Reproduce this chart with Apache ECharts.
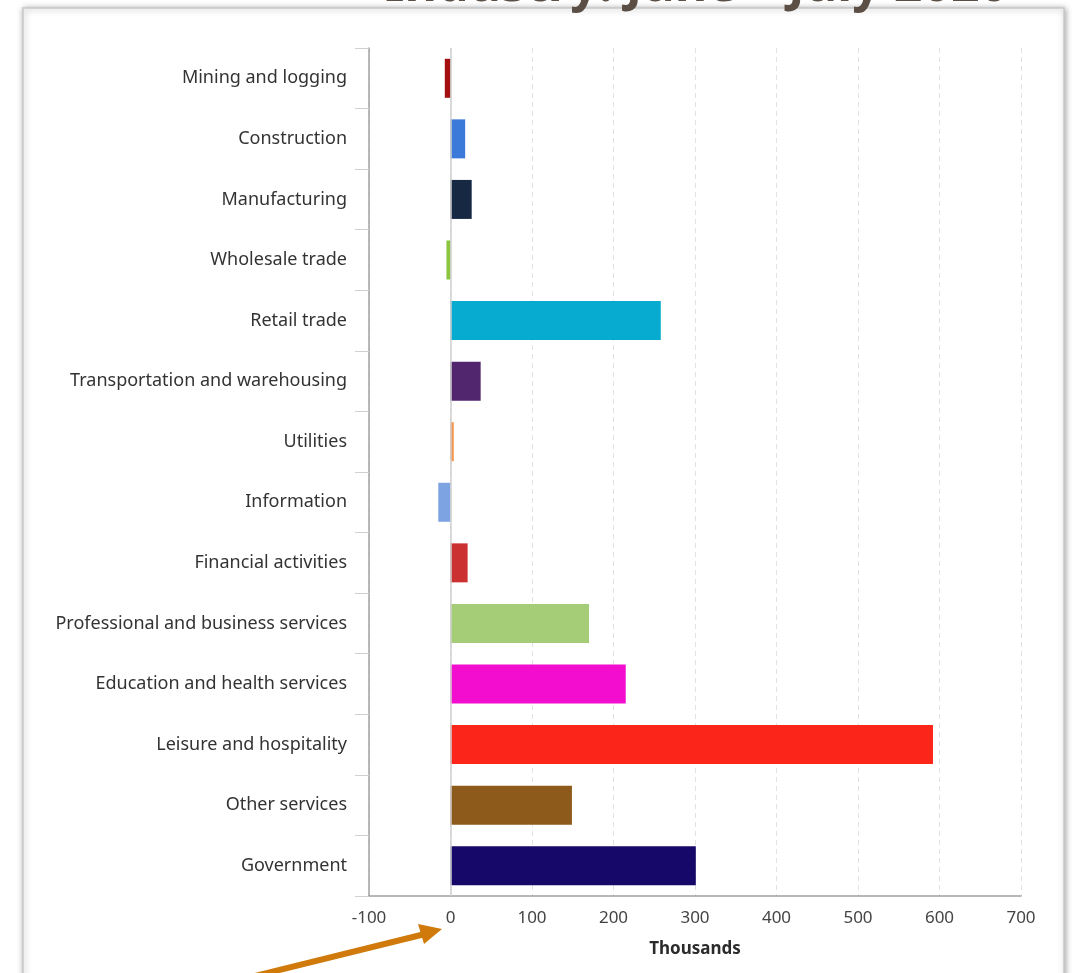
<!DOCTYPE html>
<html>
  <head>
    <meta charset="utf-8" />
    <title>ECharts</title>
    <script src="https://cdn.jsdelivr.net/npm/echarts@6/dist/echarts.min.js"></script>
    <style>
      html, body { margin: 0; padding: 0; background: #fff; }
    </style>
  </head>
  <body>
    <div id="chart" style="width: 1076px; height: 973px"></div>
    <script type="text/javascript">
      // industries, top to bottom
      var industries = [
        "Mining and logging", "Construction", "Manufacturing", "Wholesale trade",
        "Retail trade", "Transportation and warehousing", "Utilities", "Information",
        "Financial activities", "Professional and business services",
        "Education and health services", "Leisure and hospitality",
        "Other services", "Government"
      ];
      // change in employment, thousands
      var changes = [-7, 18, 26, -5, 258, 37, 4, -15, 21, 170, 215, 592, 149, 301];
      var barColors = [
        "#a3100f", "#3b7ad8", "#172843", "#8cc63f", "#07abd0", "#52256f", "#f7944b",
        "#7ea3e2", "#cc3131", "#a5cd78", "#f20dcf", "#fb251a", "#8d5a1c", "#160868"
      ];
      var xTicks = { min: -100, max: 700, interval: 100 };

      var chart = echarts.init(document.getElementById("chart"));
      var font = "'Noto Sans', sans-serif";

      var option = {
        backgroundColor: "#fff",
        animation: false,
        grid: { left: 369, right: 55, top: 48, bottom: 77 },
        xAxis: {
          type: "value",
          min: xTicks.min,
          max: xTicks.max,
          interval: xTicks.interval,
          name: "Thousands",
          nameLocation: "middle",
          nameGap: 45,
          nameTextStyle: { fontFamily: font, fontSize: 17, fontWeight: "bold", color: "#2b2b2b" },
          axisLine: { show: true, onZero: false, lineStyle: { color: "#a0a0a0", width: 1.5 } },
          axisTick: { show: false },
          axisLabel: { fontFamily: font, fontSize: 17, color: "#444", margin: 14 },
          splitLine: { show: true, lineStyle: { color: "#e2e2e2", type: [5, 4] } }
        },
        yAxis: {
          type: "category",
          inverse: true,
          data: industries,
          axisLine: { show: true, onZero: false, lineStyle: { color: "#a0a0a0", width: 1.5 } },
          axisTick: { show: true, length: 14, lineStyle: { color: "#d0d0d0" } },
          axisLabel: { fontFamily: font, fontSize: 18, color: "#333", margin: 22 }
        },
        series: [
          {
            type: "bar",
            barWidth: 39,
            data: changes.map(function (v, i) {
              return { value: v, itemStyle: { color: barColors[i] } };
            }),
            markLine: {
              silent: true,
              symbol: "none",
              label: { show: false },
              lineStyle: { color: "#cfcfcf", type: "solid", width: 1.5 },
              data: [{ xAxis: 0 }]
            }
          }
        ],
        graphic: [
          {
            type: "rect",
            z: -10,
            shape: { x: 23, y: 8, width: 1041, height: 990 },
            style: {
              fill: "#fff",
              stroke: "#c8c8c8",
              lineWidth: 1.5,
              shadowBlur: 6,
              shadowColor: "rgba(0,0,0,0.35)",
              shadowOffsetX: 1,
              shadowOffsetY: 1
            }
          },
          {
            type: "text",
            z: 100,
            left: 385,
            top: -38,
            style: {
              text: "Industry: June \u2013 July 2020",
              font: "bold 50px " + font,
              fill: "#5b4f45"
            }
          },
          {
            type: "line",
            z: 100,
            shape: { x1: 255, y1: 976, x2: 425, y2: 934 },
            style: { stroke: "#d07a0c", lineWidth: 6 }
          },
          {
            type: "polygon",
            z: 100,
            shape: { points: [[442, 929], [424, 944], [418, 924]] },
            style: { fill: "#d07a0c" }
          }
        ]
      };
      chart.setOption(option);
    </script>
  </body>
</html>
